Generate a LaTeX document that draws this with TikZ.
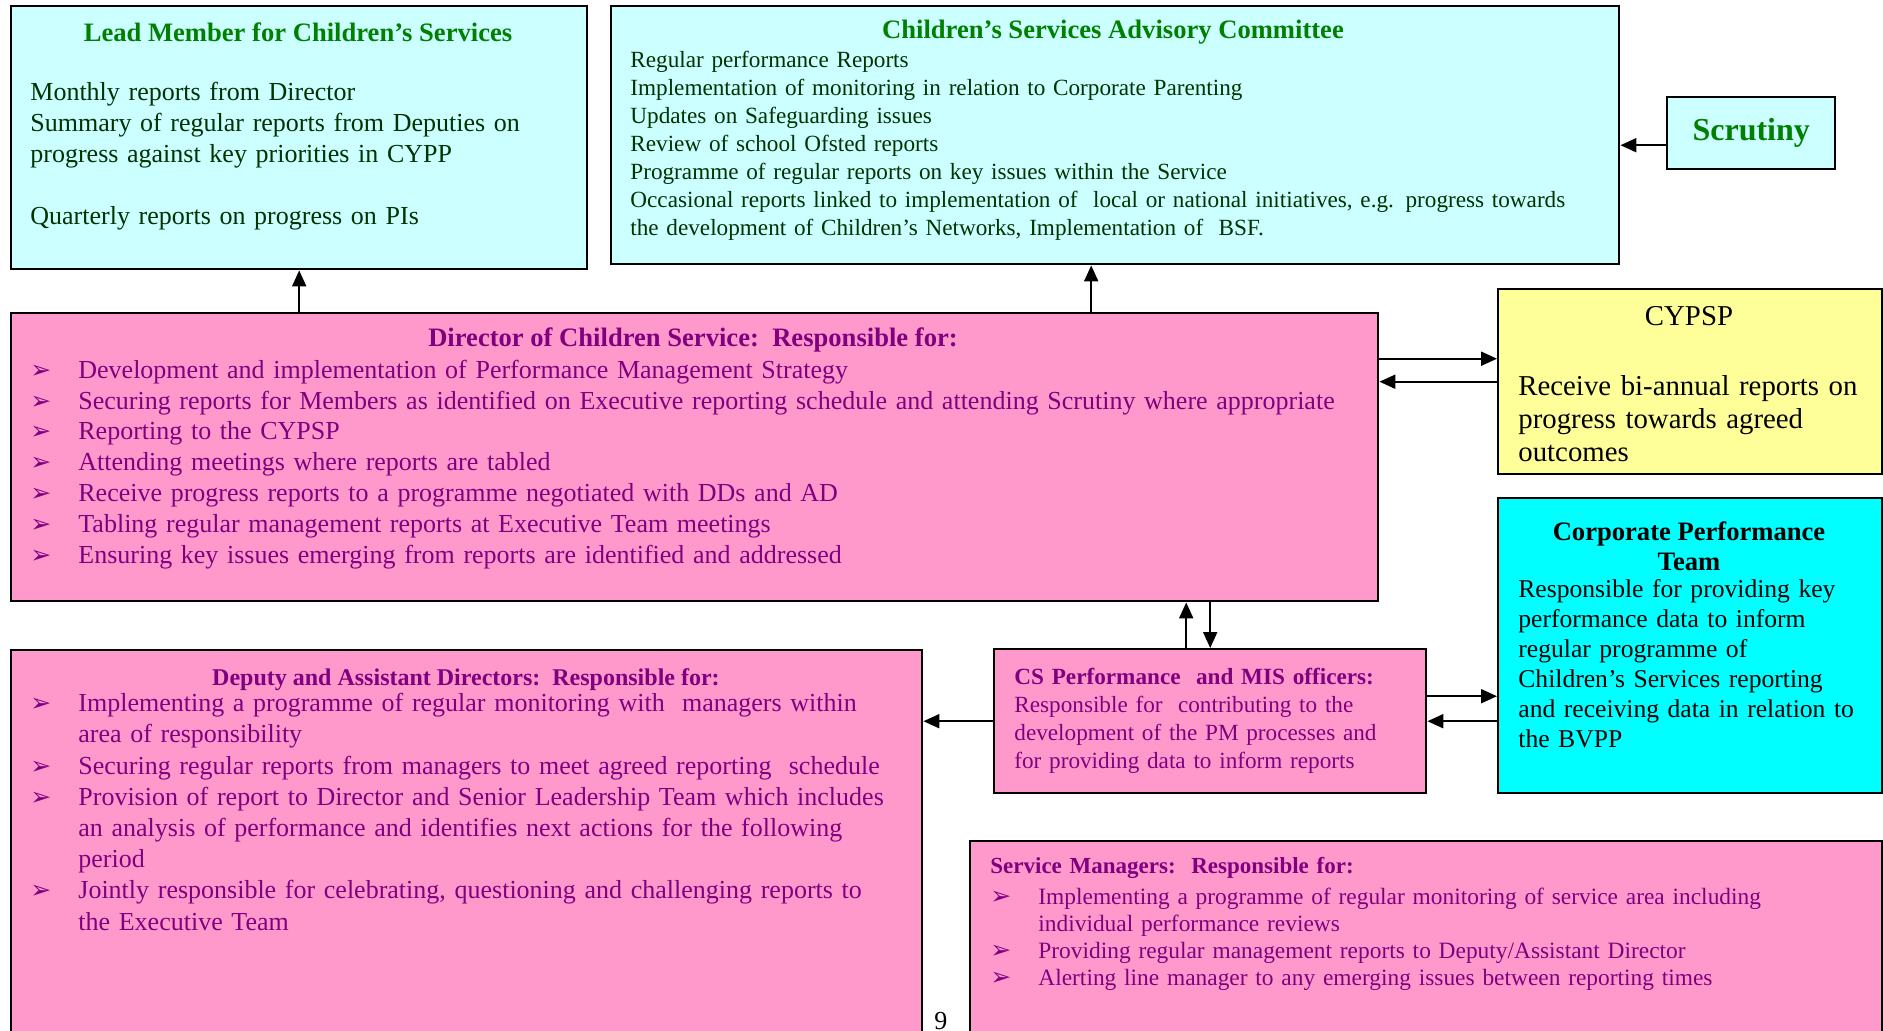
\documentclass[tikz,border=0pt]{standalone}
\usepackage{fontspec}
\setmainfont{Liberation Serif}
\newfontfamily\dingfont{DejaVu Sans}
\usepackage{xcolor}
\usepackage{tikz}
\usetikzlibrary{arrows.meta}

\definecolor{paleCyan}{HTML}{CCFFFF}
\definecolor{deepCyan}{HTML}{00FFFF}
\definecolor{pinkFill}{HTML}{FF99CC}
\definecolor{paleYellow}{HTML}{FFFF99}
\definecolor{titleGreen}{HTML}{008000}
\definecolor{bodyGreen}{HTML}{003300}
\definecolor{purpleText}{HTML}{800080}

\newcommand{\pmbullet}{{\dingfont\fontsize{12.5}{12}\selectfont ➢}}
\newcommand{\pmitem}[2][24pt]{\par\noindent\hangindent=#1\hangafter=1\makebox[#1][l]{\pmbullet}#2\par}

\tikzset{
  box/.style={draw, line width=1.2pt, anchor=north west, inner sep=0pt},
  txt/.style={anchor=north west, inner sep=0pt, align=left},
  link/.style={-{Triangle[length=8pt,width=7pt]}, line width=1pt},
}

\begin{document}
\begin{tikzpicture}
  \tikzset{x={(0.5pt,0pt)}, y={(0pt,-0.5pt)}}
  \clip (0,0) rectangle (1883,1030);
  \fill[white] (0,0) rectangle (1883,1030);

  % boxes
  \node[box, fill=paleCyan, minimum width=288pt, minimum height=131.5pt] (lead) at (10,5) {};
  \node[box, fill=paleCyan, minimum width=504pt, minimum height=129pt] (csac) at (610,5) {};
  \node[box, fill=paleCyan, minimum width=84pt, minimum height=36pt, text=titleGreen,
        font=\bfseries\fontsize{16}{18}\selectfont] (scrutiny) at (1666,96) {Scrutiny};
  \node[box, fill=pinkFill, minimum width=683.5pt, minimum height=144pt] (director) at (10,312) {};
  \node[box, fill=paleYellow, minimum width=192pt, minimum height=92.5pt] (cypsp) at (1497,288) {};
  \node[box, fill=deepCyan, minimum width=192pt, minimum height=147.5pt] (corp) at (1497,497) {};
  \node[box, fill=pinkFill, minimum width=216pt, minimum height=72pt] (csperf) at (993,648) {};
  \node[box, fill=pinkFill, minimum width=455.5pt, minimum height=200pt] (deputy) at (10,649) {};
  \node[box, fill=pinkFill, minimum width=456pt, minimum height=110pt] (managers) at (969,840) {};

  % texts
  \node[text=titleGreen, font=\bfseries\fontsize{13.3}{15.5}\selectfont] (leadtitle) at (298,32)
    {Lead Member for Children's Services};
  \node[txt, text width=280pt, text=bodyGreen, font=\fontsize{13}{15.5}\selectfont] (leadtext) at (30,82)
    {Monthly reports from Director\\
     Summary of regular reports from Deputies on\\
     progress against key priorities in CYPP\\[15.5pt]
     Quarterly reports on progress on PIs};

  \node[text=titleGreen, font=\bfseries\fontsize{13.3}{15.5}\selectfont] (csactitle) at (1113,32)
    {Children's Services Advisory Committee};
  \node[txt, text width=490pt, text=bodyGreen, font=\fontsize{11.6}{14}\selectfont] (csactext) at (630,51)
    {Regular performance Reports\\
     Implementation of monitoring in relation to Corporate Parenting\\
     Updates on Safeguarding issues\\
     Review of school Ofsted reports\\
     Programme of regular reports on key issues within the Service\\
     Occasional reports linked to implementation of\ \ local or national initiatives, e.g. progress towards\\
     the development of Children's Networks, Implementation of\ \ BSF.};

  \node[text=purpleText, font=\bfseries\fontsize{13.3}{15.4}\selectfont] (dirtitle) at (693,340)
    {Director of Children Service:\ \ Responsible for:};
  \node[txt, text width=670pt, text=purpleText, font=\fontsize{13}{15.4}\selectfont] (dirtext) at (30,347)
    {\pmitem{Development and implementation of Performance Management Strategy}
     \pmitem{Securing reports for Members as identified on Executive reporting schedule and attending Scrutiny where appropriate}
     \pmitem{Reporting to the CYPSP}
     \pmitem{Attending meetings where reports are tabled}
     \pmitem{Receive progress reports to a programme negotiated with DDs and AD}
     \pmitem{Tabling regular management reports at Executive Team meetings}
     \pmitem{Ensuring key issues emerging from reports are identified and addressed}};

  \node[font=\fontsize{14.4}{16.5}\selectfont] (cypsptitle) at (1689,316) {CYPSP};
  \node[txt, text width=180pt, font=\fontsize{14.4}{16.5}\selectfont] (cypsptext) at (1518,375)
    {Receive bi-annual reports on\\
     progress towards agreed\\
     outcomes};

  \node[align=center, font=\bfseries\fontsize{13.3}{15}\selectfont] (corptitle) at (1689,546)
    {Corporate Performance\\Team};
  \node[txt, text width=180pt, font=\fontsize{12.8}{15}\selectfont] (corptext) at (1518,579)
    {Responsible for providing key\\
     performance data to inform\\
     regular programme of\\
     Children's Services reporting\\
     and receiving data in relation to\\
     the BVPP};

  \node[txt, text width=205pt, text=purpleText, font=\fontsize{11.6}{14}\selectfont] (cstext) at (1014,668)
    {\noindent{\bfseries CS Performance\ \ and MIS officers:}\\
     Responsible for\ \ contributing to the\\
     development of the PM processes and\\
     for providing data to inform reports};

  \node[text=purpleText, font=\bfseries\fontsize{12}{14}\selectfont] (deptitle) at (466,680)
    {Deputy and Assistant Directors:\ \ Responsible for:};
  \node[txt, text width=440pt, text=purpleText, font=\fontsize{13}{15.6}\selectfont] (deptext) at (30,680)
    {\pmitem{Implementing a programme of regular monitoring with\ \ managers within\newline area of responsibility}
     \pmitem{Securing regular reports from managers to meet agreed reporting\ \ schedule}
     \pmitem{Provision of report to Director and Senior Leadership Team which includes\newline an analysis of performance and identifies next actions for the following\newline period}
     \pmitem{Jointly responsible for celebrating, questioning and challenging reports to\newline the Executive Team}};

  \node[txt, text width=440pt, text=purpleText, font=\fontsize{11.7}{13.5}\selectfont] (mantext) at (990,857)
    {\noindent{\fontsize{11.5}{13.5}\bfseries\selectfont Service Managers:\ \ Responsible for:}\par
     \vspace{2pt}
     \pmitem{Implementing a programme of regular monitoring of service area including\newline individual performance reviews}
     \pmitem{Providing regular management reports to Deputy/Assistant Director}
     \pmitem{Alerting line manager to any emerging issues between reporting times}};

  \node[txt, font=\fontsize{13}{15}\selectfont] (pagenum) at (934,1012) {9};

  % connectors
  \coordinate (csacin) at ([xshift=-12pt]csac.south);
  \coordinate (scrout) at ([yshift=-6pt]scrutiny.west);
  \coordinate (tocypsp) at ([yshift=11.5pt]cypsp.west);
  \coordinate (tocorp) at ([yshift=12.5pt]csperf.east);
  \coordinate (upcs) at ([xshift=-12pt]csperf.north);

  \draw[link] (director.north -| lead.south) -- (lead.south);
  \draw[link] (director.north -| csacin) -- (csacin);
  \draw[link] (scrout) -- (scrout -| csac.east);
  \draw[link] (tocypsp -| director.east) -- (tocypsp);
  \draw[link] (cypsp.west) -- (cypsp.west -| director.east);
  \draw[link] (upcs) -- (upcs |- director.south);
  \draw[link] (csperf.north |- director.south) -- (csperf.north);
  \draw[link] (csperf.west) -- (csperf.west -| deputy.east);
  \draw[link] (tocorp) -- (tocorp -| corp.west);
  \draw[link] (corp.west |- csperf.east) -- (csperf.east);
\end{tikzpicture}
\end{document}
